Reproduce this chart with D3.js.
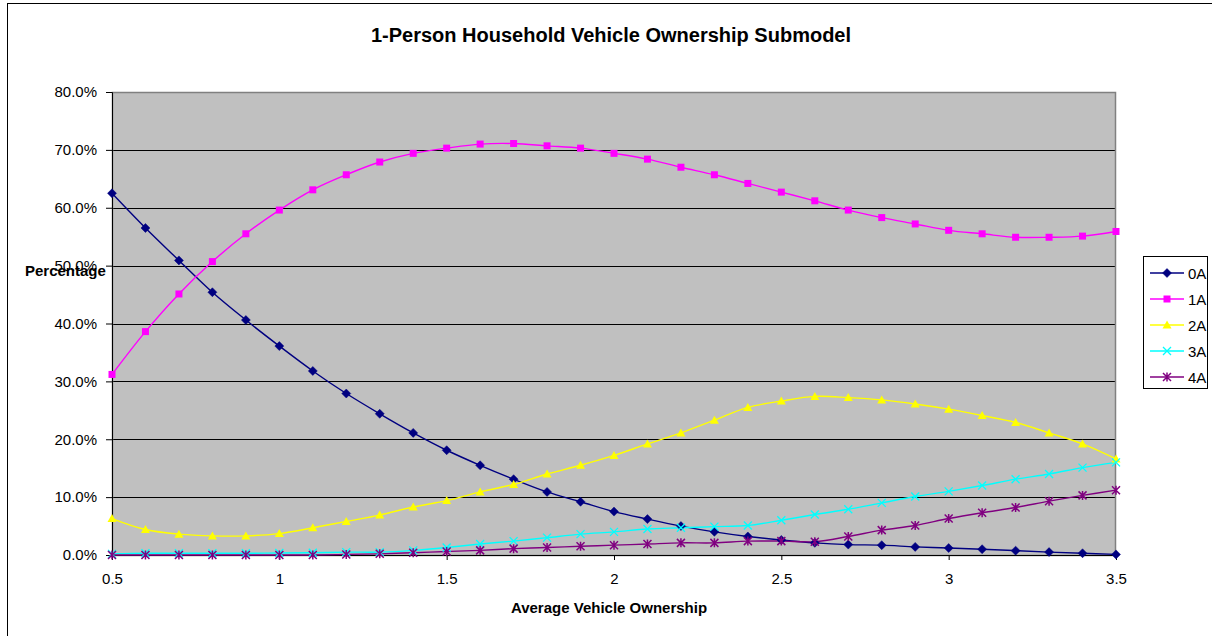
<!DOCTYPE html>
<html>
<head>
<meta charset="utf-8">
<script src="https://cdn.jsdelivr.net/npm/d3@7"></script>
<style>
  html, body { margin: 0; padding: 0; background: #fff; }
  svg { display: block; font-family: Arial, "Liberation Sans", sans-serif; }
</style>
</head>
<body>
<svg id="chart" width="1212" height="636"></svg>
<script>
// Average vehicle ownership (x) and share of 1-person households by class (%)
const ownership = [0.5,0.6,0.7,0.8,0.9,1.0,1.1,1.2,1.3,1.4,1.5,1.6,1.7,1.8,1.9,2.0,
                   2.1,2.2,2.3,2.4,2.5,2.6,2.7,2.8,2.9,3.0,3.1,3.2,3.3,3.4,3.5];
const share0A = [62.5,56.5,50.9,45.4,40.6,36.1,31.8,27.9,24.4,21.1,18.1,15.5,13.1,10.9,9.2,7.5,
                 6.2,5.0,4.0,3.2,2.6,2.1,1.8,1.7,1.4,1.2,1.0,0.75,0.5,0.3,0.1];
const share1A = [31.2,38.6,45.1,50.7,55.5,59.6,63.1,65.7,67.9,69.4,70.3,71.0,71.1,70.7,70.3,69.4,
                 68.4,67.0,65.7,64.2,62.7,61.2,59.6,58.3,57.2,56.1,55.5,54.9,54.9,55.1,55.9];
const share2A = [6.3,4.4,3.6,3.3,3.3,3.7,4.7,5.8,6.9,8.3,9.4,10.9,12.2,14.0,15.5,17.2,
                 19.2,21.1,23.3,25.5,26.6,27.4,27.2,26.8,26.1,25.2,24.1,22.9,21.1,19.2,16.6];
const share3A = [0.2,0.3,0.3,0.3,0.3,0.35,0.4,0.5,0.5,0.8,1.3,1.9,2.4,3.0,3.6,4.0,
                 4.5,4.7,4.9,5.1,6.0,7.0,7.9,9.0,10.1,11.0,12.0,13.1,14.0,15.1,16.0];
const share4A = [0,0,0,0,0,0,0,0.1,0.2,0.4,0.6,0.8,1.1,1.3,1.5,1.7,
                 1.9,2.1,2.1,2.4,2.4,2.3,3.2,4.3,5.1,6.3,7.3,8.2,9.3,10.3,11.2];
const seriesNames = ["0A","1A","2A","3A","4A"];
const seriesColors = ["#000080","#ff00ff","#ffff00","#00ffff","#800080"];
const seriesMarkers = ["diamond","square","triangle","cross","star"];
const xTicks = [0.5,1,1.5,2,2.5,3,3.5];
const yTicks = [0,10,20,30,40,50,60,70,80];

const seriesValues = [share0A, share1A, share2A, share3A, share4A];
const series = seriesNames.map((name, i) => ({
  name, color: seriesColors[i], marker: seriesMarkers[i],
  points: ownership.map((x, j) => ({ x, y: seriesValues[i][j] }))
}));

const svg = d3.select("#chart");
const plot = { left: 112, top: 92, right: 1116, bottom: 555 };
const fontFamily = "Arial, 'Liberation Sans', sans-serif";

const x = d3.scaleLinear().domain([0.5, 3.5]).range([plot.left, plot.right]);
const y = d3.scaleLinear().domain([0, 80]).range([plot.bottom, plot.top]);

// Outer chart frame
svg.append("rect")
  .attr("x", 7.5).attr("y", 3.5).attr("width", 1220).attr("height", 650)
  .attr("fill", "#fff").attr("stroke", "#000").attr("stroke-width", 1);

// Title
svg.append("text")
  .attr("x", 611).attr("y", 42)
  .attr("text-anchor", "middle")
  .attr("font-size", 20).attr("font-weight", "bold")
  .text("1-Person Household Vehicle Ownership Submodel");

// Plot background
svg.append("rect")
  .attr("x", plot.left).attr("y", plot.top)
  .attr("width", plot.right - plot.left).attr("height", plot.bottom - plot.top)
  .attr("fill", "#c0c0c0");

// Horizontal gridlines
svg.append("g")
  .selectAll("line")
  .data(yTicks.filter(t => t > 0 && t < 80))
  .join("line")
  .attr("x1", plot.left).attr("x2", plot.right)
  .attr("y1", d => Math.round(y(d)) + 0.5).attr("y2", d => Math.round(y(d)) + 0.5)
  .attr("stroke", "#000").attr("stroke-width", 1);

// Plot area border
svg.append("rect")
  .attr("x", plot.left + 0.5).attr("y", plot.top + 0.5)
  .attr("width", plot.right - plot.left - 1).attr("height", plot.bottom - plot.top)
  .attr("fill", "none").attr("stroke", "#808080").attr("stroke-width", 1.5);

// Y axis
const yAxis = d3.axisLeft(y)
  .tickValues(yTicks)
  .tickSize(6)
  .tickPadding(9)
  .tickFormat(d => d.toFixed(1) + "%");
const gy = svg.append("g")
  .attr("transform", `translate(${plot.left},0)`)
  .call(yAxis);
gy.select(".domain").attr("stroke", "#000").attr("stroke-width", 1);
gy.selectAll(".tick line").attr("stroke", "#000");
gy.selectAll(".tick text")
  .attr("font-size", 15).attr("font-family", fontFamily).attr("fill", "#000");

// X axis
const xAxis = d3.axisBottom(x)
  .tickValues(xTicks)
  .tickSize(5)
  .tickPadding(13)
  .tickFormat(d => String(d));
const gx = svg.append("g")
  .attr("transform", `translate(0,${plot.bottom})`)
  .call(xAxis);
gx.select(".domain").attr("stroke", "#000").attr("stroke-width", 1);
gx.selectAll(".tick line").attr("stroke", "#000");
gx.selectAll(".tick text")
  .attr("font-size", 15).attr("font-family", fontFamily).attr("fill", "#000");

// Axis titles
svg.append("text")
  .attr("x", 609).attr("y", 613)
  .attr("text-anchor", "middle")
  .attr("font-size", 15).attr("font-weight", "bold")
  .text("Average Vehicle Ownership");
svg.append("text")
  .attr("x", 25).attr("y", 276)
  .attr("font-size", 15).attr("font-weight", "bold")
  .text("Percentage");

// Marker drawing
function drawMarker(g, kind, color) {
  if (kind === "diamond") {
    g.append("path").attr("d", "M0,-4.5L4.5,0L0,4.5L-4.5,0Z").attr("fill", color).attr("stroke", color).attr("stroke-width", 0.5);
  } else if (kind === "square") {
    g.append("rect").attr("x", -3.5).attr("y", -3.5).attr("width", 7).attr("height", 7).attr("fill", color);
  } else if (kind === "triangle") {
    g.append("path").attr("d", "M0,-4.5L4.5,3.5L-4.5,3.5Z").attr("fill", color);
  } else if (kind === "cross") {
    g.append("path").attr("d", "M-4,-4L4,4M-4,4L4,-4").attr("stroke", color).attr("stroke-width", 1.3).attr("fill", "none");
  } else if (kind === "star") {
    g.append("path").attr("d", "M-4,-4L4,4M-4,4L4,-4M0,-4.5L0,4.5").attr("stroke", color).attr("stroke-width", 1.5).attr("fill", "none");
  }
}

// Smoothed series lines and markers
const line = d3.line()
  .x(d => x(d.x)).y(d => y(d.y))
  .curve(d3.curveCatmullRom.alpha(0.5));

const seriesG = svg.append("g");
series.forEach(s => {
  seriesG.append("path")
    .datum(s.points)
    .attr("d", line)
    .attr("fill", "none")
    .attr("stroke", s.color)
    .attr("stroke-width", 1.4);
});
series.forEach(s => {
  seriesG.append("g")
    .selectAll("g")
    .data(s.points)
    .join("g")
    .attr("transform", d => `translate(${x(d.x)},${y(d.y)})`)
    .each(function() { drawMarker(d3.select(this), s.marker, s.color); });
});

// Legend
const legend = svg.append("g");
legend.append("rect")
  .attr("x", 1143.5).attr("y", 256.5).attr("width", 64).attr("height", 132)
  .attr("fill", "#fff").attr("stroke", "#000").attr("stroke-width", 1);
series.forEach((s, i) => {
  const ly = 273 + i * 26;
  const row = legend.append("g");
  row.append("line")
    .attr("x1", 1150).attr("x2", 1184).attr("y1", ly).attr("y2", ly)
    .attr("stroke", s.color).attr("stroke-width", 1.4);
  drawMarker(row.append("g").attr("transform", `translate(1167,${ly})`), s.marker, s.color);
  row.append("text")
    .attr("x", 1188).attr("y", ly + 5.5)
    .attr("font-size", 15)
    .text(s.name);
});
</script>
</body>
</html>
